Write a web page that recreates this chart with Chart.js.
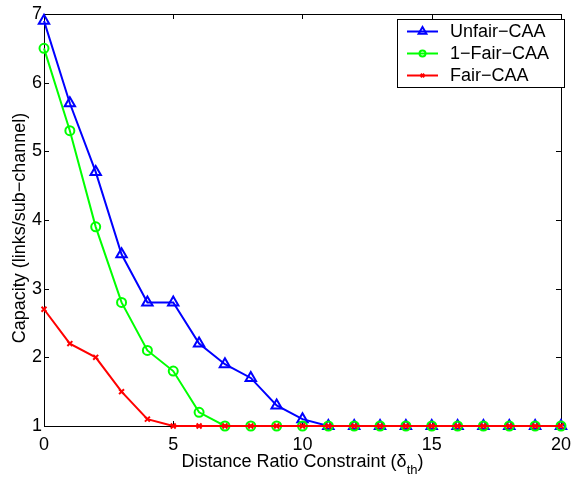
<!DOCTYPE html>
<html>
<head>
<meta charset="utf-8">
<script src="https://cdn.jsdelivr.net/npm/chart.js@4.4.1/dist/chart.umd.min.js"></script>
<style>
  body { margin: 0; background: #fff; }
  #wrap { width: 579px; height: 477px; }
</style>
</head>
<body>
<div id="wrap"><canvas id="capChart" width="579" height="477"></canvas></div>
<script>
const distRatio = [0, 1, 2, 3, 4, 5, 6, 7, 8, 9, 10, 11, 12, 13, 14, 15, 16, 17, 18, 19, 20];
const unfairCAA = [6.9, 5.7, 4.7, 3.5, 2.8, 2.8, 2.2, 1.9, 1.7, 1.3, 1.1, 1, 1, 1, 1, 1, 1, 1, 1, 1, 1];
const oneFairCAA = [6.5, 5.3, 3.9, 2.8, 2.1, 1.8, 1.2, 1, 1, 1, 1, 1, 1, 1, 1, 1, 1, 1, 1, 1, 1];
const fairCAA = [2.7, 2.2, 2.0, 1.5, 1.1, 1.0, 1.0, 1, 1, 1, 1, 1, 1, 1, 1, 1, 1, 1, 1, 1, 1];
const xTicks = [0, 5, 10, 15, 20];
const yTicks = [1, 2, 3, 4, 5, 6, 7];

const FONT = "'Liberation Sans', Arial, Helvetica, sans-serif";

const seriesStyle = [
    { label: 'Unfair\u2212CAA', color: '#0000ff', marker: 'triangle', radius: 6, legendRadius: 4.5 },
    { label: '1\u2212Fair\u2212CAA', color: '#00ff00', marker: 'circle', radius: 4.5, legendRadius: 3 },
    { label: 'Fair\u2212CAA', color: '#ff0000', marker: 'crossRot', radius: 3.5, legendRadius: 2.5 }
];

function toPoints(values) {
    return values.map((v, i) => ({ x: distRatio[i], y: v }));
}

// black box + inward ticks like matlab
const framePlugin = {
    id: 'frame',
    beforeDatasetsDraw(chart) {
        const { ctx, chartArea: a, scales: { x, y } } = chart;
        ctx.save();
        ctx.strokeStyle = '#000';
        ctx.lineWidth = 1;
        ctx.strokeRect(a.left + 0.5, a.top + 0.5, a.right - a.left, a.bottom - a.top);
        ctx.beginPath();
        xTicks.forEach(v => {
            const px = Math.round(x.getPixelForValue(v)) + 0.5;
            ctx.moveTo(px, a.bottom); ctx.lineTo(px, a.bottom - 5);
            ctx.moveTo(px, a.top); ctx.lineTo(px, a.top + 5);
        });
        yTicks.forEach(v => {
            const py = Math.round(y.getPixelForValue(v)) + 0.5;
            ctx.moveTo(a.left, py); ctx.lineTo(a.left + 5, py);
            ctx.moveTo(a.right, py); ctx.lineTo(a.right - 5, py);
        });
        ctx.stroke();
        ctx.restore();
    },
    afterDraw(chart) {
        const { ctx, chartArea: a } = chart;
        ctx.save();
        ctx.fillStyle = '#000';

        // y title
        ctx.font = '18px ' + FONT;
        ctx.textAlign = 'center';
        ctx.textBaseline = 'middle';
        ctx.translate(20, (a.top + a.bottom) / 2 + 8);
        ctx.rotate(-Math.PI / 2);
        ctx.fillText('Capacity (links/sub\u2212channel)', 0, 0);
        ctx.setTransform(1, 0, 0, 1, 0, 0);

        // x title with subscript
        const main = 'Distance Ratio Constraint (\u03b4';
        ctx.font = '18px ' + FONT;
        const w1 = ctx.measureText(main).width;
        const w3 = ctx.measureText(')').width;
        ctx.font = '13px ' + FONT;
        const w2 = ctx.measureText('th').width;
        let tx = (a.left + a.right) / 2 - (w1 + w2 + w3) / 2;
        ctx.textAlign = 'left';
        ctx.textBaseline = 'alphabetic';
        ctx.font = '18px ' + FONT;
        ctx.fillText(main, tx, 467);
        ctx.font = '13px ' + FONT;
        ctx.fillText('th', tx + w1, 474);
        ctx.font = '18px ' + FONT;
        ctx.fillText(')', tx + w1 + w2, 467);

        // legend box
        const bx = 397, by = 19, bw = 167, bh = 68;
        ctx.fillStyle = '#fff';
        ctx.fillRect(bx, by, bw, bh);
        ctx.strokeStyle = '#000';
        ctx.lineWidth = 1;
        ctx.strokeRect(bx + 0.5, by + 0.5, bw, bh);
        seriesStyle.forEach((s, i) => {
            const cy = 31.5 + i * 22;
            ctx.strokeStyle = s.color;
            ctx.fillStyle = 'rgba(0,0,0,0)';
            ctx.lineWidth = 2;
            ctx.beginPath();
            ctx.moveTo(407, cy);
            ctx.lineTo(438, cy);
            ctx.stroke();
            Chart.helpers.drawPoint(ctx, {
                pointStyle: s.marker, radius: s.legendRadius, borderWidth: 2, rotation: 0
            }, 422.5, cy);
            ctx.fillStyle = '#000';
            ctx.font = '18px ' + FONT;
            ctx.textBaseline = 'middle';
            ctx.fillText(s.label, 450, cy + 1);
        });
        ctx.restore();
    }
};

const datasets = [unfairCAA, oneFairCAA, fairCAA].map((vals, i) => {
    const s = seriesStyle[i];
    return {
        label: s.label,
        data: toPoints(vals),
        borderColor: s.color,
        backgroundColor: 'rgba(0,0,0,0)',
        pointBorderColor: s.color,
        pointBackgroundColor: 'rgba(0,0,0,0)',
        pointStyle: s.marker,
        pointRadius: s.radius,
        pointBorderWidth: 2,
        borderWidth: 2,
        tension: 0,
        clip: false,
        order: 2 - i
    };
});

const ctx = document.getElementById('capChart').getContext('2d');
new Chart(ctx, {
    type: 'line',
    data: { datasets: datasets },
    options: {
        responsive: false,
        animation: false,
        events: [],
        layout: { padding: { left: 0, top: 14, right: 11, bottom: 0 } },
        scales: {
            x: {
                type: 'linear',
                min: 0,
                max: 20,
                afterFit: scale => { scale.height = 51; },
                afterBuildTicks: scale => { scale.ticks = xTicks.map(v => ({ value: v })); },
                grid: { display: false, drawTicks: false },
                border: { display: false },
                ticks: { color: '#000', padding: 8, maxRotation: 0, font: { family: FONT, size: 18 } }
            },
            y: {
                type: 'linear',
                min: 1,
                max: 7,
                afterFit: scale => { scale.width = 44; },
                afterBuildTicks: scale => { scale.ticks = yTicks.map(v => ({ value: v })); },
                grid: { display: false, drawTicks: false },
                border: { display: false },
                ticks: { color: '#000', padding: 2, font: { family: FONT, size: 18 } }
            }
        },
        plugins: {
            legend: { display: false },
            tooltip: { enabled: false }
        }
    },
    plugins: [framePlugin]
});
</script>
</body>
</html>
